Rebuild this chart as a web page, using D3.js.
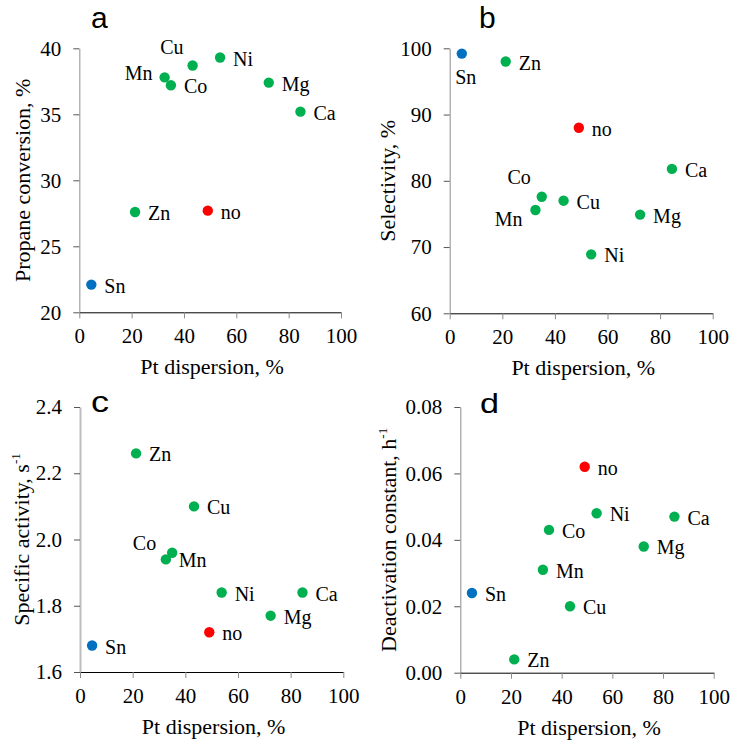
<!DOCTYPE html>
<html>
<head>
<meta charset="utf-8">
<script src="https://cdn.jsdelivr.net/npm/d3@7"></script>
<style>
  html, body { margin: 0; padding: 0; background: #fff; }
  svg { display: block; }
</style>
</head>
<body>
<div id="chart"></div>
<script>
// ---- Data ----
const metals       = ["Sn", "Zn", "Mn", "Co", "Cu", "no", "Ni", "Mg", "Ca"];
const dispersion   = [4.6, 21.3, 32.6, 35.0, 43.3, 49.1, 53.8, 72.4, 84.5];
const conversion   = [22.1, 27.6, 37.8, 37.2, 38.7, 27.7, 39.3, 37.4, 35.2];
const selectivity  = [99.2, 98.0, 75.6, 77.6, 77.0, 88.0, 68.9, 74.9, 81.8];
const activity     = [1.68, 2.26, 1.94, 1.96, 2.10, 1.72, 1.84, 1.77, 1.84];
const deactivation = [0.024, 0.004, 0.031, 0.043, 0.020, 0.062, 0.048, 0.038, 0.047];

const xTicks = [0, 20, 40, 60, 80, 100];
const convTicks = [20, 25, 30, 35, 40];
const selTicks = [60, 70, 80, 90, 100];
const actTicks = [1.6, 1.8, 2.0, 2.2, 2.4];
const deactTicks = [0.00, 0.02, 0.04, 0.06, 0.08];

const xTitle = "Pt dispersion, %";

// ---- Styles / layout ----
const SERIF = '"Liberation Serif", "Times New Roman", serif';
const SANS = '"Liberation Sans", Arial, sans-serif';
const colorOf = m => m === "Sn" ? "#0070c0" : (m === "no" ? "#ff0000" : "#00b050");
const W = 745, H = 745;

const svg = d3.select("#chart").append("svg")
  .attr("width", W).attr("height", H)
  .attr("viewBox", `0 0 ${W} ${H}`);
svg.append("rect").attr("width", W).attr("height", H).attr("fill", "#fff");

// label placement: default right of point; overrides per panel
const panels = [
  { letter: "a", letterPos: [91, 27.5, 30, null], yAxisColor: "#a0a0a0", yAxisWidth: 1.2,
    values: conversion, ticks: convTicks, fmt: d3.format("d"),
    x: [79.3, 341], y: [312.3, 48.3], yTitle: ["Propane conversion, %"], yTitleX: 30,
    labels: { Cu: ["end", -9, -11], Mn: ["end", -12, 3] } },
  { letter: "b", letterPos: [479, 27.5, 30, null], yAxisColor: "#a0a0a0", yAxisWidth: 1.2,
    values: selectivity, ticks: selTicks, fmt: d3.format("d"),
    x: [449.7, 712.7], y: [313.3, 48.3], yTitle: ["Selectivity, %"], yTitleX: 395,
    labels: { Sn: ["middle", 4, 30], Co: ["end", -11, -13], Mn: ["end", -13, 16] } },
  { letter: "c", letterPos: [91, 412, 29, 18], yAxisColor: "#bdbdbd", yAxisWidth: 2,
    values: activity, ticks: actTicks, fmt: d3.format(".1f"),
    x: [80, 343.3], y: [672, 407], yTitle: ["Specific activity, s", "-1"], yTitleX: 29,
    labels: { Co: ["end", -16, -3] } },
  { letter: "d", letterPos: [480, 413, 28, 19], yAxisColor: "#a0a0a0", yAxisWidth: 1.2,
    values: deactivation, ticks: deactTicks, fmt: d3.format(".2f"),
    x: [460.3, 713.7], y: [672.7, 407], yTitle: ["Deactivation constant, h", "-1"], yTitleX: 396,
    labels: {} }
];

panels.forEach(p => {
  const g = svg.append("g");
  const xs = d3.scaleLinear().domain([0, 100]).range(p.x);
  const ys = d3.scaleLinear().domain([p.ticks[0], p.ticks[p.ticks.length - 1]]).range(p.y);

  // y axis
  const ya = g.append("g").attr("transform", `translate(${p.x[0]},0)`)
    .call(d3.axisLeft(ys).tickValues(p.ticks).tickFormat(p.fmt).tickSize(6).tickSizeOuter(0).tickPadding(12));
  ya.selectAll("path.domain").attr("stroke", p.yAxisColor).attr("stroke-width", p.yAxisWidth);
  ya.selectAll(".tick line").attr("stroke", "#555");
  ya.selectAll(".tick text").attr("dy", "0.32em");

  // x axis
  const xa = g.append("g").attr("transform", `translate(0,${p.y[0]})`)
    .call(d3.axisBottom(xs).tickValues(xTicks).tickSize(6).tickSizeOuter(0).tickPadding(10));
  xa.selectAll("path.domain").attr("stroke", "#000").attr("stroke-width", 1);
  xa.selectAll(".tick line").attr("stroke", "#8a8a8a");
  xa.selectAll(".tick text").attr("dy", "0.71em");

  [xa, ya].forEach(a => {
    a.attr("font-family", SERIF).attr("font-size", 21);
    a.selectAll(".tick text").attr("font-family", SERIF).attr("font-size", 21).attr("fill", "#000");
  });

  // x title
  g.append("text")
    .attr("x", (p.x[0] + p.x[1]) / 2 + 2)
    .attr("y", p.y[0] + 62)
    .attr("text-anchor", "middle")
    .attr("font-family", SERIF)
    .attr("font-size", 22)
    .attr("fill", "#000")
    .text(xTitle);

  // y title
  const yt = g.append("text")
    .attr("transform", `translate(${p.yTitleX},${(p.y[0] + p.y[1]) / 2}) rotate(-90)`)
    .attr("text-anchor", "middle")
    .attr("font-family", SERIF)
    .attr("font-size", 22)
    .attr("fill", "#000");
  yt.append("tspan").text(p.yTitle[0]);
  if (p.yTitle[1]) {
    yt.append("tspan").attr("font-size", 13).attr("dy", -9).text(p.yTitle[1]);
  }

  // points
  metals.forEach((m, i) => {
    const cx = xs(dispersion[i]), cy = ys(p.values[i]);
    g.append("circle").attr("cx", cx).attr("cy", cy).attr("r", 5.2).attr("fill", colorOf(m));
    const lab = p.labels[m] || ["start", 13, 8];
    g.append("text")
      .attr("x", cx + lab[1]).attr("y", cy + lab[2])
      .attr("text-anchor", lab[0])
      .attr("font-family", SERIF)
      .attr("font-size", 20)
      .attr("fill", "#000")
      .text(m);
  });

  // panel letter
  const lt = svg.append("text")
    .attr("x", p.letterPos[0]).attr("y", p.letterPos[1])
    .attr("font-family", SANS)
    .attr("font-size", p.letterPos[2])
    .attr("fill", "#000")
    .text(p.letter);
  if (p.letterPos[3]) lt.attr("textLength", p.letterPos[3]).attr("lengthAdjust", "spacingAndGlyphs");
});
</script>
</body>
</html>
